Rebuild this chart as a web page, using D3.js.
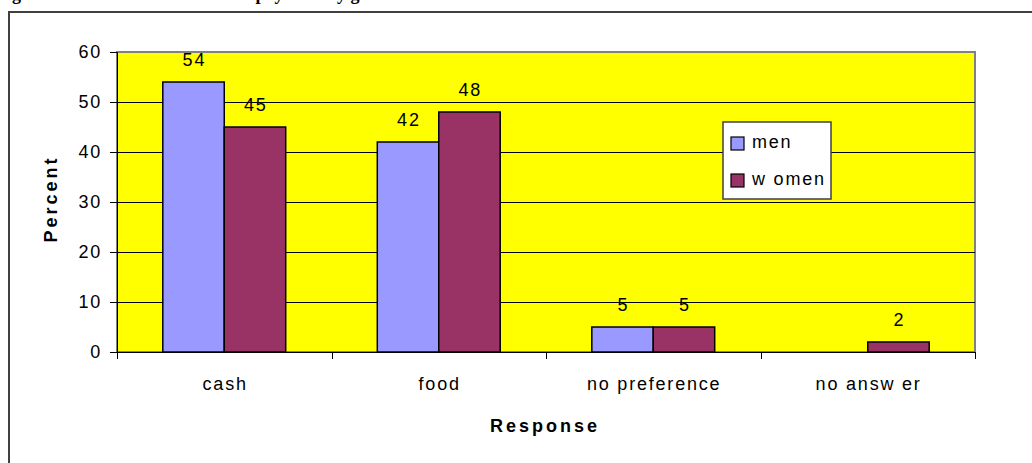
<!DOCTYPE html>
<html><head><meta charset="utf-8">
<script src="https://cdn.jsdelivr.net/npm/d3@7"></script>
<style>body{margin:0;background:#fff;} svg{display:block;}</style>
</head><body><svg id="chart" width="1032" height="463"></svg>
<script>
// Chart data
const categories = ["cash", "food", "no preference", "no answ er"];
const seriesNames = ["men", "w omen"];
const menValues = [54, 42, 5, null];
const womenValues = [45, 48, 5, 2];
const yTicks = [0, 10, 20, 30, 40, 50, 60];
const titleText = "Figure 4: Preferred form of relief payment by gender";
const yTitle = "Percent";
const xTitle = "Response";

const seriesColors = ["#9999FF", "#993366"];
const font = "'Liberation Sans', Arial, sans-serif";
const fs = 18;
const ls = 1.8;

const svg = d3.select("#chart");
const plot = {left: 117, right: 975, top: 52, bottom: 352};

const y = d3.scaleLinear().domain([0, 60]).range([plot.bottom, plot.top]);
const x = d3.scaleBand().domain(categories).range([plot.left, plot.right])
  .paddingInner(0.427).paddingOuter(0.2135);
const xs = d3.scaleBand().domain(seriesNames).range([0, x.bandwidth()]);

// Figure caption (runs off the top edge)
svg.append("text").attr("x", -4).attr("y", 0)
  .attr("font-family", "'Liberation Serif', 'Times New Roman', serif")
  .attr("font-weight", "bold").attr("font-size", 18)
  .text(titleText);

// Outer frame
svg.append("rect").attr("x", 9).attr("y", 12).attr("width", 1040).attr("height", 470)
  .attr("fill", "none").attr("stroke", "#404040").attr("stroke-width", 2);

// Plot background
svg.append("rect").attr("x", plot.left).attr("y", plot.top)
  .attr("width", plot.right - plot.left).attr("height", plot.bottom - plot.top)
  .attr("fill", "#FFFF00").attr("stroke", "#808080").attr("stroke-width", 2);

// Horizontal gridlines
svg.append("g").selectAll("line").data(yTicks.filter(d => d > 0 && d < 60)).join("line")
  .attr("x1", plot.left).attr("x2", plot.right)
  .attr("y1", d => Math.round(y(d)) + 0.5).attr("y2", d => Math.round(y(d)) + 0.5)
  .attr("stroke", "#000").attr("stroke-width", 1);

// Bars
const rows = categories.map((c, i) => ({cat: c, vals: [menValues[i], womenValues[i]]}));
const groups = svg.append("g").selectAll("g").data(rows).join("g")
  .attr("transform", d => `translate(${x(d.cat)},0)`);
const bars = groups.selectAll("g").data(d => d.vals.map((v, j) => ({s: seriesNames[j], v, j})).filter(e => e.v !== null))
  .join("g");
bars.append("rect")
  .attr("x", d => xs(d.s)).attr("width", xs.bandwidth())
  .attr("y", d => y(d.v)).attr("height", d => y(0) - y(d.v))
  .attr("fill", d => seriesColors[d.j]).attr("stroke", "#000").attr("stroke-width", 1.5);
bars.append("text")
  .attr("x", d => xs(d.s) + xs.bandwidth() / 2 + ls / 2).attr("y", d => y(d.v) - 16)
  .attr("text-anchor", "middle").attr("font-family", font).attr("font-size", fs)
  .attr("letter-spacing", ls)
  .text(d => d.v);

// Y axis
const yAxis = svg.append("g").attr("transform", `translate(${plot.left},0)`)
  .call(d3.axisLeft(y).tickValues(yTicks).tickSize(7).tickPadding(8));
yAxis.select(".domain").attr("stroke", "#000").attr("stroke-width", 1);
yAxis.selectAll(".tick line").attr("stroke", "#000");
yAxis.selectAll("text").attr("font-family", font).attr("font-size", fs)
  .attr("letter-spacing", ls).attr("fill", "#000");

// X axis with ticks on category boundaries
const xAxisY = plot.bottom;
svg.append("line").attr("x1", plot.left - 7).attr("x2", plot.right)
  .attr("y1", xAxisY + 0.5).attr("y2", xAxisY + 0.5).attr("stroke", "#000");
const step = x.step();
svg.append("g").selectAll("line").data(d3.range(categories.length + 1)).join("line")
  .attr("x1", i => Math.round(plot.left + i * step) + 0.5).attr("x2", i => Math.round(plot.left + i * step) + 0.5)
  .attr("y1", xAxisY).attr("y2", xAxisY + 7).attr("stroke", "#000");
svg.append("g").selectAll("text").data(categories).join("text")
  .attr("x", d => x(d) + x.bandwidth() / 2 + ls / 2).attr("y", 390)
  .attr("text-anchor", "middle").attr("font-family", font).attr("font-size", fs)
  .attr("letter-spacing", ls)
  .text(d => d);

// Axis titles
svg.append("text").attr("x", 545).attr("y", 432).attr("text-anchor", "middle")
  .attr("font-family", font).attr("font-weight", "bold").attr("font-size", fs)
  .attr("letter-spacing", 3).text(xTitle);
svg.append("text").attr("transform", "translate(57,199) rotate(-90)").attr("text-anchor", "middle")
  .attr("font-family", font).attr("font-weight", "bold").attr("font-size", fs)
  .attr("letter-spacing", 3).text(yTitle);

// Legend
const legend = svg.append("g").attr("transform", "translate(723,122)");
legend.append("rect").attr("width", 108).attr("height", 77)
  .attr("fill", "#fff").attr("stroke", "#404040").attr("stroke-width", 1.5);
const items = legend.selectAll("g").data(seriesNames).join("g")
  .attr("transform", (d, i) => `translate(8,${15 + i * 37})`);
items.append("rect").attr("width", 13).attr("height", 13)
  .attr("fill", (d, i) => seriesColors[i]).attr("stroke", "#000").attr("stroke-width", 1.2);
items.append("text").attr("x", 21).attr("y", 11)
  .attr("font-family", font).attr("font-size", fs).attr("letter-spacing", ls).text(d => d);
</script>
</body></html>
